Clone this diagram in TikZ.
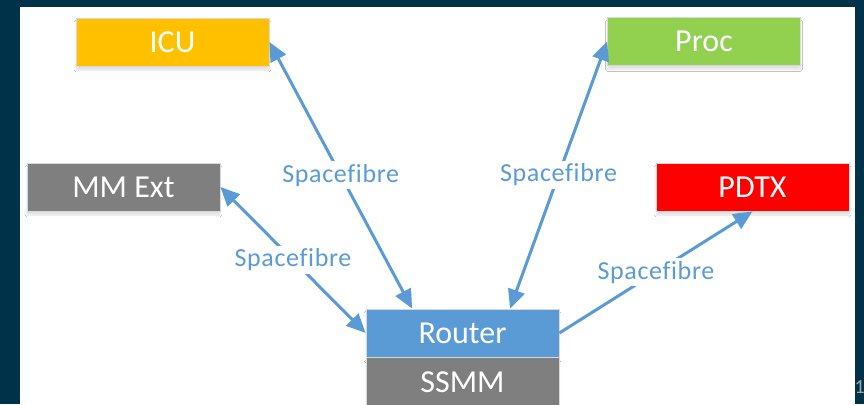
\documentclass[tikz,border=0pt]{standalone}
\usepackage{fontspec}
\setmainfont[Ligatures=NoCommon]{Carlito}
\usetikzlibrary{arrows.meta,positioning,calc,shadows.blur}
\definecolor{SlideNavy}{HTML}{003249}
\definecolor{LinkBlue}{HTML}{5B9BD5}
\definecolor{IcuGold}{HTML}{FFC000}
\definecolor{ProcGreen}{HTML}{92D050}
\definecolor{UnitGrey}{HTML}{7F7F7F}
\definecolor{PdtxRed}{HTML}{FF0000}

\begin{document}
\begin{tikzpicture}[
    x=1pt, y=-1pt,
    unit/.style={draw=black!15, line width=0.8pt, text=white,
      minimum width=193pt, minimum height=48pt, inner sep=0pt,
      font=\fontsize{32}{36}\selectfont,
      blur shadow={shadow xshift=0pt, shadow yshift=-4pt,
        shadow opacity=12, shadow blur steps=6}},
    link/.style={{Triangle[length=19pt,width=17pt]}-{Triangle[length=19pt,width=17pt]},
      line width=3pt, color=LinkBlue},
    uplink/.style={-{Triangle[length=19pt,width=17pt]}, line width=3pt, color=LinkBlue},
    lbl/.style={fill=white, text=LinkBlue, inner sep=3pt,
      font=\fontsize{26}{30}\selectfont\addfontfeature{LetterSpace=2.5}}
  ]
    % slide frame
    \useasboundingbox (0,0) rectangle (864,404);
    \fill[SlideNavy] (0,0) rectangle (864,404);
    \fill[white] (20,7) rectangle (855,404);
    \node[anchor=west, inner sep=0pt, text=black!35,
      font=\fontsize{20}{24}\selectfont] (pgno) at (854.5,387) {1};

    % units
    \node[unit, fill=IcuGold] (icu) at (172.5,42) {ICU};
    \node[unit, fill=ProcGreen] (proc) at (704,41.5) {Proc};
    \node[unit, fill=UnitGrey] (mmext) at (123.5,187) {MM Ext};
    \node[unit, fill=PdtxRed] (pdtx) at (752.5,187) {PDTX};
    \node[unit, fill=LinkBlue] (router) at (462.5,333) {Router};
    \node[unit, fill=UnitGrey, below=0pt of router] (ssmm) {SSMM};

    % spacefibre links
    \draw[link] (icu.east) -- node[lbl]{Spacefibre}
      ($(router.north west)!0.24!(router.north east)$);
    \draw[link] (proc.west) -- node[lbl]{Spacefibre}
      ($(router.north west)!0.745!(router.north east)$);
    \draw[link] (mmext.east) -- node[lbl]{Spacefibre} (router.west);
    \draw[uplink] (router.east) -- node[lbl]{Spacefibre} (pdtx.south);
  \end{tikzpicture}
\end{document}
